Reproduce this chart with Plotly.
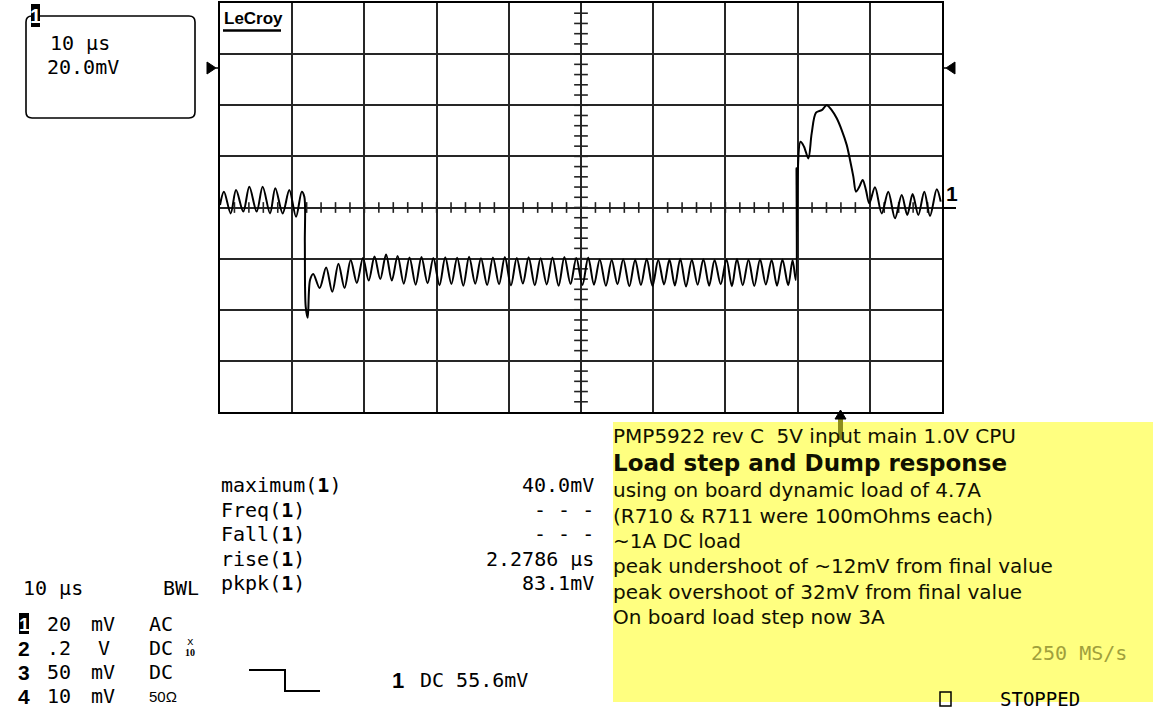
import plotly.graph_objects as go

W, H = 1156, 713

# ---------------- data (read from the scope capture) ----------------
# time in µs from left edge of screen (10 µs/div), voltage in mV (20 mV/div, AC coupled)
t_us = [
    0.00, 0.55, 1.48, 2.22, 3.23, 4.06, 5.08, 5.91, 6.93, 7.66, 8.68, 9.60, 10.53, 11.32,
    11.68, 11.75, 11.87, 12.15, 12.47, 12.92, 13.80,
    14.70, 15.55, 16.40, 17.25, 18.10, 18.95, 19.80, 20.60, 21.40, 22.20, 23.00, 23.80, 24.60,
    25.45, 26.25, 27.10, 27.90, 28.75, 29.55, 30.40, 31.20, 32.05, 32.85, 33.70, 34.50,
    35.35, 36.15, 37.00, 37.80, 38.65, 39.45, 40.30, 41.10, 41.95, 42.75, 43.60, 44.40,
    45.25, 46.05, 46.90, 47.70, 48.55, 49.35, 50.20, 51.00,
    51.80, 52.60, 53.45, 54.25, 55.05, 55.85, 56.70, 57.50, 58.30, 59.10, 59.90, 60.70,
    61.50, 62.25, 63.00, 63.75, 64.55, 65.35, 66.15, 66.95, 67.75, 68.50, 69.35, 70.15,
    70.90, 71.60, 72.40, 73.20, 74.00, 74.80, 75.60, 76.40, 77.15, 77.90, 78.70, 79.30, 79.75,
    79.85, 79.90, 80.00, 80.40, 80.89, 81.49, 81.95, 82.55, 83.34, 84.03, 84.72, 85.42,
    86.11, 86.80, 87.26, 87.72, 88.09, 88.55, 89.02, 89.47, 89.93, 90.72, 91.65, 92.56,
    93.49, 94.42, 95.19, 95.93, 96.72, 97.55, 98.34, 99.27, 99.82,
]
v_mv = [
    1.0, 6.2, -2.3, 6.8, -1.6, 8.1, -1.6, 8.1, -2.3, 7.5, -2.3, 6.8, -3.6, 6.2,
    4.2, -13.9, -38.8, -43.1, -28.4, -26.0, -31.5,
    -23.5, -33.0, -22.0, -31.5, -20.5, -29.5, -19.8, -28.6, -19.2, -28.0, -18.4, -28.6, -19.0,
    -29.8, -19.6, -30.2, -19.4, -29.6, -19.8, -30.4, -19.5, -29.9, -19.7, -30.6, -19.3,
    -29.8, -19.9, -30.3, -19.6, -30.0, -19.4, -30.5, -19.8, -29.7, -19.5, -30.4, -19.9,
    -30.1, -19.6, -30.6, -19.4, -29.9, -19.8, -30.3, -19.6,
    -30.2, -20.3, -30.6, -20.5, -30.0, -20.2, -30.8, -20.4, -30.3, -20.1, -30.7, -20.5,
    -30.1, -20.3, -30.5, -20.0, -30.9, -20.4, -30.2, -20.2, -30.6, -20.5, -30.0, -20.3,
    -30.8, -20.1, -30.4, -20.4, -30.7, -20.2, -30.1, -20.5, -30.6, -20.3, -30.4, -20.6, -28.4,
    15.5, -9.6, 12.0, 25.7, 23.8, 19.2, 29.0, 37.1, 38.1, 40.0, 38.1, 34.9,
    30.3, 24.5, 18.6, 12.1, 6.2, 8.1, 10.8, 6.8, 1.6, 7.9, -2.3, 6.2,
    -4.2, 4.9, -2.9, 5.3, -2.9, 6.2, -3.3, 7.1, 2.3,
]

X_RANGE = [0, 100]   # 10 div x 10 µs
Y_RANGE = [-80, 80]  # 8 div x 20 mV
X_DIV, Y_DIV = 10, 20

measure_labels = ["maximum", "Freq", "Fall", "rise", "pkpk"]
measure_values = ["40.0mV", "- - -", "- - -", "2.2786 µs", "83.1mV"]

note_lines = [
    "PMP5922 rev C  5V input main 1.0V CPU",
    "Load step and Dump response",
    "using on board dynamic load of 4.7A",
    "(R710 &amp; R711 were 100mOhms each)",
    "~1A DC load",
    "peak undershoot of ~12mV from final value",
    "peak overshoot of 32mV from final value",
    "On board load step now 3A",
]

ch_ids = ["1", "2", "3", "4"]
ch_scale = ["20", ".2", "50", "10"]
ch_unit = ["mV", "V", "mV", "mV"]
ch_coupling = ["AC", "DC", "DC", "50Ω"]

# ---------------- helpers ----------------
MONO = "DejaVu Sans Mono"
SANS = "DejaVu Sans"
MSIZE = 20


def px(x):
    return x / W


def py(y):
    return 1 - y / H


annotations = []
shapes = []


def txt(x, y, s, size=MSIZE, xanchor="left", family=MONO, color="black", yanchor="middle"):
    annotations.append(dict(
        x=px(x), y=py(y), xref="paper", yref="paper", text=s, showarrow=False,
        xanchor=xanchor, yanchor=yanchor, font=dict(family=family, size=size, color=color),
        borderpad=0, align="left",
    ))


def rect(x0, y0, x1, y1, fill=None, line_color=None, lw=0):
    shapes.append(dict(
        type="rect", xref="paper", yref="paper", x0=px(x0), x1=px(x1), y0=py(y1), y1=py(y0),
        fillcolor=fill if fill else "rgba(0,0,0,0)",
        line=dict(color=line_color if line_color else "rgba(0,0,0,0)", width=lw),
    ))


def path(points, fill=None, line_color="black", lw=1.5, close=False):
    d = "M " + " L ".join(f"{px(a):.5f},{py(b):.5f}" for a, b in points)
    if close:
        d += " Z"
    shapes.append(dict(
        type="path", xref="paper", yref="paper", path=d,
        fillcolor=fill if fill else "rgba(0,0,0,0)",
        line=dict(color=line_color, width=lw),
    ))


# ---------------- figure ----------------
fig = go.Figure()

# graticule minor ticks on the centre axes
cx = (X_RANGE[0] + X_RANGE[1]) / 2
cy = (Y_RANGE[0] + Y_RANGE[1]) / 2
tx, ty = [], []
n_minor = 5
step_x = X_DIV / n_minor
step_y = Y_DIV / n_minor
k = 1
while X_RANGE[0] + k * step_x < X_RANGE[1]:
    xv = X_RANGE[0] + k * step_x
    tx += [xv, xv, None]
    ty += [cy - 2.1, cy + 2.1, None]
    k += 1
k = 1
while Y_RANGE[0] + k * step_y < Y_RANGE[1]:
    yv = Y_RANGE[0] + k * step_y
    tx += [cx - 0.95, cx + 0.95, None]
    ty += [yv, yv, None]
    k += 1
fig.add_trace(go.Scatter(x=tx, y=ty, mode="lines", line=dict(color="#222222", width=1.6),
                         hoverinfo="skip", showlegend=False))

# waveform
fig.add_trace(go.Scatter(x=t_us, y=v_mv, mode="lines",
                         line=dict(color="black", width=2, shape="spline", smoothing=0.9),
                         showlegend=False, name="C1"))

# ---------- decorations ----------
# top-left info box (rounded)
x0, y0, x1, y1, r = 26, 16, 195, 118, 6
d = (f"M {px(x0 + r)},{py(y0)} L {px(x1 - r)},{py(y0)} Q {px(x1)},{py(y0)} {px(x1)},{py(y0 + r)} "
     f"L {px(x1)},{py(y1 - r)} Q {px(x1)},{py(y1)} {px(x1 - r)},{py(y1)} "
     f"L {px(x0 + r)},{py(y1)} Q {px(x0)},{py(y1)} {px(x0)},{py(y1 - r)} "
     f"L {px(x0)},{py(y0 + r)} Q {px(x0)},{py(y0)} {px(x0 + r)},{py(y0)} Z")
shapes.append(dict(type="path", xref="paper", yref="paper", path=d,
                   line=dict(color="black", width=1.6), fillcolor="white"))
rect(31, 4, 40, 27, fill="black")
txt(35.5, 16, "<b>1</b>", size=20, xanchor="center", color="white", family="Liberation Sans")
txt(49, 43, "10 µs")
txt(46, 67, "20.0mV")

# LeCroy logo
txt(223, 18, "<b>LeCroy</b>", size=17, family="Liberation Sans")
path([(223, 30.5), (281, 30.5)], lw=2.5)

# level arrows
path([(207, 62), (216, 68), (207, 74)], fill="black", lw=1, close=True)
path([(216, 68), (220, 68)], lw=1.5)
path([(955, 62), (946, 68), (955, 74)], fill="black", lw=1, close=True)
path([(942, 68), (946, 68)], lw=1.5)

# trace 1 marker on the right
txt(945, 193, "<b>1</b>", size=21, family="Liberation Sans")
path([(942, 208), (956, 208)], lw=2)

# yellow note box
rect(613, 422, 1153, 702, fill="#ffff80")
# trigger position arrow
rect(838, 417, 843, 440, fill="#8c8c1e")
path([(835, 419), (840.5, 410), (846, 419)], fill="black", lw=1, close=True)

note_y = [436, 463, 490, 516, 541, 566, 592, 617]
for i, s in enumerate(note_lines):
    if i == 1:
        txt(612, note_y[i], "<b>" + s + "</b>", size=23, family=SANS, color="#111100")
    else:
        txt(612, note_y[i], s, size=20, family=SANS, color="#111100")

txt(1128, 653, "250 MS/s", xanchor="right", color="#a0a03c")
rect(940, 692, 951, 706, line_color="black", lw=1.5)
txt(999, 699, "STOPPED", size=19)

# measurements
meas_y = [485, 510, 534, 559, 583]
for lab, val, yy in zip(measure_labels, measure_values, meas_y):
    txt(220, yy, lab + "(<b>1</b>)")
    txt(595, yy, val, xanchor="right")

# channel / timebase summary
txt(22, 588, "10 µs")
txt(162, 588, "BWL")
row_y = [624, 648, 672, 696]
for cid, sc, un, cp, yy in zip(ch_ids, ch_scale, ch_unit, ch_coupling, row_y):
    if cid == "1":
        rect(19, yy - 11, 29, yy + 10, fill="black")
        txt(24, yy, "<b>1</b>", size=19, xanchor="center", color="white", family="Liberation Sans")
    else:
        txt(24, yy, "<b>" + cid + "</b>", size=21, xanchor="center", family="Liberation Sans")
    txt(46, yy, sc)
    txt(104 if un == "V" else 90, yy, un, xanchor="left" if un != "V" else "center")
    if cp == "50Ω":
        txt(148, yy, cp, size=15, family="Liberation Sans")
    else:
        txt(148, yy, cp)
txt(190, 641, "x", size=11, xanchor="center")
txt(190, 652, "<b>10</b>", size=10, xanchor="center", family="Liberation Serif")

# trigger slope symbol
path([(249, 670), (285, 670), (285, 691), (320, 691)], lw=2)
txt(398, 680, "<b>1</b>", size=22, xanchor="center", family="Liberation Sans")
txt(419, 680, "DC 55.6mV")

fig.update_layout(
    width=W, height=H, margin=dict(l=0, r=0, t=0, b=0),
    paper_bgcolor="white", plot_bgcolor="white",
    xaxis=dict(domain=[px(220), px(942)], range=X_RANGE, dtick=X_DIV, tick0=0,
               showgrid=True, gridcolor="#262626", gridwidth=1.6, zeroline=False,
               showline=True, mirror=True, linecolor="black", linewidth=2,
               showticklabels=False, ticks="", fixedrange=True),
    yaxis=dict(domain=[py(412), py(3)], range=Y_RANGE, dtick=Y_DIV, tick0=0,
               showgrid=True, gridcolor="#262626", gridwidth=1.6, zeroline=False,
               showline=True, mirror=True, linecolor="black", linewidth=2,
               showticklabels=False, ticks="", fixedrange=True),
    annotations=annotations, shapes=shapes, showlegend=False,
)

fig.write_html("out.html")
